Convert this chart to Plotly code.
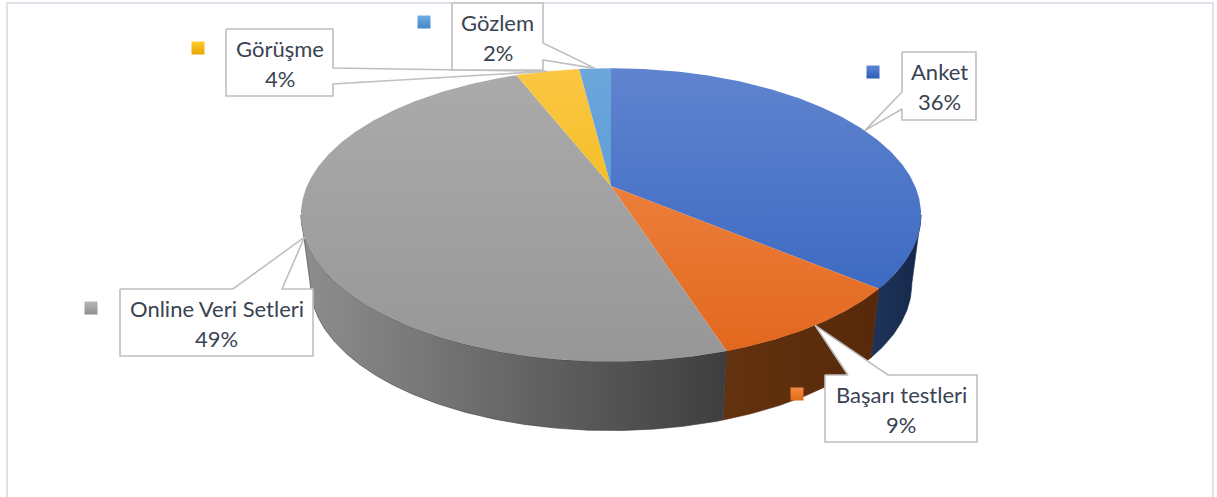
import numpy as np
import plotly.graph_objects as go

# ---------------- data ----------------
categories = ["Anket", "Başarı testleri", "Online Veri Setleri", "Görüşme", "Gözlem"]
values = [36, 9, 49, 4, 2]

# ---------------- styles ----------------
top_light = ["#6084CF", "#F28F50", "#ABABAB", "#FBC743", "#6CA7DC"]
top_dark = ["#3262BE", "#E2661C", "#979797", "#EAB200", "#4A8FCF"]
wall_light = ["#203459", "#63320F", "#8E8E8E", "#7F6000", "#2E5A85"]
wall_dark = ["#14274B", "#57290A", "#3E3E3E", "#6B5000", "#244A70"]
key_light = ["#5A86D6", "#F58A42", "#B8B8B8", "#FFCB2E", "#6FAEE3"]
key_dark = ["#2F5DB3", "#E06A17", "#8E8E8E", "#E6A800", "#4587C7"]
TEXT_COLOR = "#3A4352"
FONT = "Lato"
FONT_SIZE = 22

# geometry of the 3D pie (pixel space)
CX, CY = 611, 186
RX, RY = 304, 141
PERSP = 0.197
DEPTH = 69
BOTTOM_SCALE = 0.97

# label boxes: (x0, y0, x1, y1), wedge edge, wedge base, key centre
label_layout = [
    dict(box=(902, 52, 976, 120), edge="left", base=(92, 109), key=(873, 72)),
    dict(box=(825, 375, 977, 442), edge="top", base=(848, 888), key=(797, 394)),
    dict(box=(120, 289, 313, 356), edge="top", base=(233, 282), key=(91, 308)),
    dict(box=(226, 29, 333, 96), edge="right", base=(68, 84), key=(198, 48)),
    dict(box=(452, 3, 543, 70), edge="right", base=(43, 60), key=(424, 22)),
]


def proj(theta_deg):
    t = np.radians(theta_deg)
    w = 1 + PERSP * np.cos(t)
    x = CX + RX * np.sin(t) / w
    y = CY - RY * np.cos(t) / w
    return x, y


def proj_bottom(theta_deg):
    x, y = proj(theta_deg)
    return CX + BOTTOM_SCALE * (x - CX), y + DEPTH


total = float(sum(values))
angles = np.cumsum([0] + [v / total * 360 for v in values])

theta_r = np.degrees(np.arccos(-PERSP))
theta_l = 360 - theta_r

fig = go.Figure()

# walls
for i, cat in enumerate(categories):
    a0, a1 = angles[i], angles[i + 1]
    lo, hi = max(a0, theta_r), min(a1, theta_l)
    if hi <= lo:
        continue
    th = np.linspace(lo, hi, max(4, int((hi - lo) * 2)))
    xt, yt = proj(th)
    xb, yb = proj_bottom(th[::-1])
    xs = np.concatenate([xt, xb, xt[:1]])
    ys = np.concatenate([yt, yb, yt[:1]])
    fig.add_trace(go.Scatter(
        x=xs, y=ys, mode="lines", fill="toself", line=dict(width=0.6, color=wall_dark[i]),
        fillgradient=dict(type="horizontal", start=float(xs.min()), stop=float(xs.max()),
                          colorscale=[[0, wall_light[i]], [1, wall_dark[i]]]),
        hoverinfo="skip", showlegend=False))

# top faces
ytop = CY - RY / (1 + PERSP)
ybot = CY + RY / (1 - PERSP)
for i, cat in enumerate(categories):
    a0, a1 = angles[i], angles[i + 1]
    th = np.linspace(a0, a1, max(4, int((a1 - a0) * 2)))
    xa, ya = proj(th)
    xs = np.concatenate([[CX], xa, [CX]])
    ys = np.concatenate([[CY], ya, [CY]])
    fig.add_trace(go.Scatter(
        x=xs, y=ys, mode="lines", fill="toself", line=dict(width=0),
        fillgradient=dict(type="vertical", start=float(ytop), stop=float(ybot),
                          colorscale=[[0, top_light[i]], [1, top_dark[i]]]),
        hoverinfo="skip", showlegend=False))

# callouts
annotations = []
for i, cat in enumerate(categories):
    lay = label_layout[i]
    x0, y0, x1, y1 = lay["box"]
    b0, b1 = lay["base"]
    mid = (angles[i] + angles[i + 1]) / 2
    tx, ty = proj(mid)
    if lay["edge"] == "top":
        px = [x0, b0, tx, b1, x1, x1, x0, x0]
        py = [y0, y0, ty, y0, y0, y1, y1, y0]
    elif lay["edge"] == "right":
        px = [x0, x1, x1, tx, x1, x1, x0, x0]
        py = [y0, y0, b0, ty, b1, y1, y1, y0]
    else:
        px = [x0, x1, x1, x0, x0, tx, x0, x0]
        py = [y0, y0, y1, y1, b1, ty, b0, y0]
    fig.add_trace(go.Scatter(
        x=px, y=py, mode="lines", fill="toself", fillcolor="white",
        line=dict(color="#BFBFBF", width=1.6), hoverinfo="skip", showlegend=False))
    kx, ky = lay["key"]
    fig.add_trace(go.Scatter(
        x=[kx], y=[ky], mode="markers",
        marker=dict(symbol="square", size=13, color=key_light[i],
                    gradient=dict(type="vertical", color=key_dark[i]), line=dict(width=0)),
        hoverinfo="skip", showlegend=False))
    cx_box = (x0 + x1) / 2
    cy_box = (y0 + y1) / 2
    pct = f"{round(values[i] / total * 100)}%"
    annotations.append(dict(x=cx_box, y=cy_box - 14.5, text=cat, showarrow=False,
                            xref="x", yref="y", font=dict(family=FONT, size=FONT_SIZE, color=TEXT_COLOR)))
    annotations.append(dict(x=cx_box, y=cy_box + 15.5, text=pct, showarrow=False,
                            xref="x", yref="y", font=dict(family=FONT, size=FONT_SIZE, color=TEXT_COLOR)))

fig.update_layout(
    width=1217, height=497,
    margin=dict(l=0, r=0, t=0, b=0),
    paper_bgcolor="white", plot_bgcolor="white",
    xaxis=dict(range=[0, 1217], visible=False, fixedrange=True),
    yaxis=dict(range=[497, 0], visible=False, fixedrange=True),
    annotations=annotations,
    shapes=[dict(type="rect", xref="x", yref="y", x0=7, y0=3, x1=1213, y1=503,
                 line=dict(color="#DDE2E8", width=2), fillcolor="rgba(0,0,0,0)", layer="below")],
    showlegend=False,
)

fig.write_html("out.html")
